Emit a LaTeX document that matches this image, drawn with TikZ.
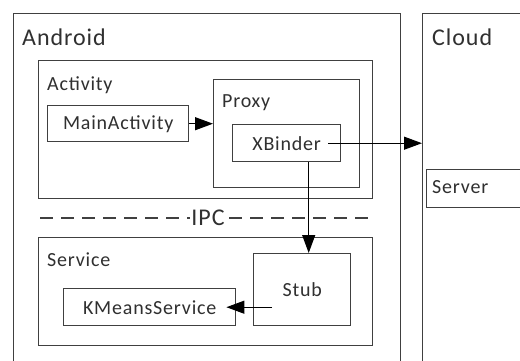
\documentclass[tikz,border=0pt]{standalone}
\usepackage{fontspec}
\setmainfont{Carlito}[LetterSpace=4]
\usetikzlibrary{arrows.meta}
\definecolor{linec}{HTML}{404040}
\definecolor{textc}{HTML}{303030}
\tikzset{
  box/.style={draw=linec, line width=1.4pt, rectangle, inner sep=0pt, anchor=north west, text=textc, font=\fontsize{20}{22}\selectfont},
  lbl/.style={anchor=base west, inner sep=0pt, text=textc, font=\fontsize{20}{22}\selectfont},
  biglbl/.style={anchor=base west, inner sep=0pt, text=textc, font=\fontsize{24}{26}\selectfont},
  arr/.style={draw=black, line width=1.1pt, -{Triangle[length=18pt,width=13pt]}},
}
\begin{document}
\begin{tikzpicture}[x=1pt,y=-1pt]
\useasboundingbox (0,0) rectangle (520,360);
\clip (0,0) rectangle (520,360);
\fill[white] (0,0) rectangle (520,360);
% outer boxes
\node[box, minimum width=387pt, minimum height=367pt] (android) at (13,13) {};
\node[biglbl] (androidl) at (22,45) {Android};
\node[box, minimum width=120pt, minimum height=367pt] (cloud) at (422,13) {};
\node[biglbl] (cloudl) at (432,45) {Cloud};
\node[box, minimum width=110pt, minimum height=38pt] (server) at (426,169) {};
\node[lbl] (serverl) at (432,193) {Server};
% activity
\node[box, minimum width=334pt, minimum height=138pt] (activity) at (38,60) {};
\node[lbl] (activityl) at (47,90) {Activity};
\node[box, minimum width=146pt, minimum height=108pt] (proxy) at (213,79) {};
\node[lbl] (proxyl) at (222,107) {Proxy};
\node[box, minimum width=141pt, minimum height=36pt] (mainact) at (47,105) {MainActivity};
\node[box, minimum width=108pt, minimum height=37pt] (xbinder) at (232,124) {XBinder};
% IPC
\coordinate (ipcl) at (40,218);
\coordinate (ipcr) at (372,218);
\draw[draw=linec, line width=1.6pt, dash pattern=on 13pt off 8pt] (ipcl) -- (ipcr);
\node[fill=white, inner sep=1.5pt, text=textc, font=\fontsize{24}{26}\selectfont] (ipc) at (208,218) {IPC};
% service
\node[box, minimum width=334pt, minimum height=108pt] (service) at (38,237) {};
\node[lbl] (servicel) at (47,266) {Service};
\node[box, minimum width=97pt, minimum height=72pt] (stub) at (253,253) {Stub};
\node[box, minimum width=172pt, minimum height=37pt] (kmeans) at (63,288) {KMeansService};
% arrows
\draw[arr] (mainact.east) -- (mainact.east -| proxy.west);
\draw[arr] ([xshift=-13pt]xbinder.east) -- (xbinder.east -| cloud.west);
\draw[arr] ([xshift=22pt]xbinder.south) -- ([xshift=22pt]xbinder.south |- stub.north);
\draw[arr] ([xshift=19pt]stub.west |- kmeans.east) -- ([xshift=-10pt]kmeans.east);
\end{tikzpicture}
\end{document}
